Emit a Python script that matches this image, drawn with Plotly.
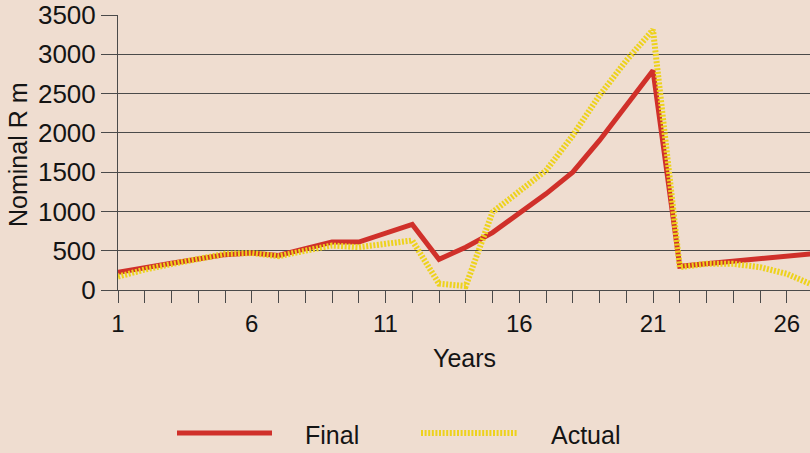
import plotly.graph_objects as go

years = list(range(1, 28))
final = [225, 290, 340, 395, 450, 470, 440, 525, 610, 610, 715, 834, 390, 545,
         730, 980, 1224, 1500, 1903, 2348, 2794, 303, 333, 367, 397, 430, 463]
actual = [170, 260, 330, 390, 460, 470, 430, 500, 566, 545, 588, 630, 80, 50,
          990, 1245, 1521, 1966, 2476, 2920, 3311, 290, 333, 333, 290, 206, 60]
x_tick_labels = [str(y) if (y - 1) % 5 == 0 else "" for y in years]
y_ticks = [0, 500, 1000, 1500, 2000, 2500, 3000, 3500]

BG = "#EFDDD0"
RED = "#D0302A"
YEL = "#EDD21C"
GRID = "#4a4a4a"
FAM = "Liberation Sans, Arial, sans-serif"
TXT = "#141414"
FONT = dict(family=FAM, size=25, color=TXT)
YTICK_FONT = dict(family=FAM, size=26, color=TXT)
XTICK_FONT = dict(family=FAM, size=24, color=TXT)

W, H = 810, 453
ML, MR, MT, MB = 118, 0, 15, 163
PW, PH = W - ML - MR, H - MT - MB

def px(xp):
    return (xp - ML) / PW

def py(yp):
    return (H - MB - yp) / PH

fig = go.Figure()
fig.add_trace(go.Scatter(x=years, y=final, mode="lines", name="Final",
                         line=dict(color=RED, width=5), showlegend=False))
fig.add_trace(go.Scatter(x=years, y=actual, mode="lines", name="Actual",
                         line=dict(color=YEL, width=6, dash="2px,1.6px"),
                         showlegend=False))

fig.update_layout(
    width=W, height=H,
    margin=dict(l=ML, r=MR, t=MT, b=MB, pad=0),
    paper_bgcolor=BG, plot_bgcolor=BG,
    font=FONT,
    showlegend=False,
)
fig.update_xaxes(
    range=[1, 1 + PW / 26.75],
    tickmode="array", tickvals=years, ticktext=x_tick_labels,
    ticks="outside", ticklen=12, tickwidth=1, tickcolor=GRID,
    showline=True, linecolor=GRID, linewidth=1,
    showgrid=False, zeroline=False, tickfont=XTICK_FONT,
)
fig.update_yaxes(
    range=[0, 3500],
    tickmode="array", tickvals=y_ticks,
    ticks="outside", ticklen=16, tickwidth=1, tickcolor=GRID,
    showline=True, linecolor=GRID, linewidth=1,
    showgrid=True, gridcolor=GRID, gridwidth=1,
    zeroline=False, tickfont=YTICK_FONT,
)

annotations = [
    dict(text="Nominal R m", x=px(18), y=py(155), xref="paper", yref="paper",
         textangle=-90, showarrow=False, font=FONT, xanchor="center", yanchor="middle"),
    dict(text="Years", x=px(465), y=py(358), xref="paper", yref="paper",
         showarrow=False, font=FONT, xanchor="center", yanchor="middle"),
    dict(text="Final", x=px(303), y=py(435), xref="paper", yref="paper",
         showarrow=False, font=FONT, xanchor="left", yanchor="middle"),
    dict(text="Actual", x=px(549), y=py(435), xref="paper", yref="paper",
         showarrow=False, font=FONT, xanchor="left", yanchor="middle"),
]
fig.update_layout(annotations=annotations)

fig.add_shape(type="line", xref="paper", yref="paper",
              x0=px(177), x1=px(272), y0=py(433), y1=py(433),
              line=dict(color=RED, width=5))
fig.add_shape(type="line", xref="paper", yref="paper",
              x0=px(421), x1=px(517), y0=py(433), y1=py(433),
              line=dict(color=YEL, width=6, dash="2px,1.6px"))

fig.write_html(
    "out.html",
    config={"displayModeBar": False, "staticPlot": True},
    post_script="document.body.style.margin='0';document.body.style.background='" + BG + "';",
)
